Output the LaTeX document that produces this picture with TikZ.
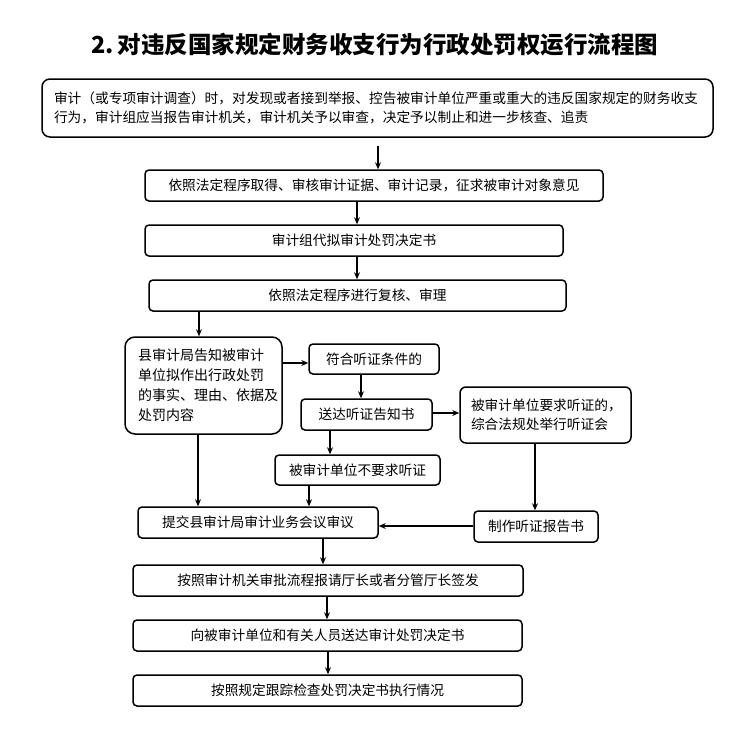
\documentclass[tikz,border=0pt]{standalone}
\usepackage{fontspec}
\setmainfont{Noto Sans CJK SC}
\usetikzlibrary{arrows.meta}
\tikzset{
  box/.style={draw=black, line width=1.5pt, rounded corners=4pt, inner sep=0pt,
    font=\fontsize{13.7}{19}\selectfont, align=center},
  arr/.style={draw=black, line width=1.5pt, -{Stealth[length=7pt,width=6pt]}}
}
\begin{document}
\begin{tikzpicture}[x=1pt,y=-1pt]
\useasboundingbox (0,0) rectangle (743,736);
\node[font=\fontsize{23.5}{26}\selectfont\bfseries] (title) at (375,45) {2.\,对违反国家规定财务收支行为行政处罚权运行流程图};
\node[box, rounded corners=8pt, minimum width=671pt, minimum height=58pt, text width=647pt, align=left] (b1) at (377.5,108)
  {审计（或专项审计调查）时，对发现或者接到举报、控告被审计单位严重或重大的违反国家规定的财务收支\\行为，审计组应当报告审计机关，审计机关予以审查，决定予以制止和进一步核查、追责};
\node[box, minimum width=458pt, minimum height=31pt] (b2) at (374,185.5) {依照法定程序取得、审核审计证据、审计记录，征求被审计对象意见};
\node[box, minimum width=418pt, minimum height=31pt] (b3) at (354,240.5) {审计组代拟审计处罚决定书};
\node[box, minimum width=417pt, minimum height=31pt] (b4) at (357.5,295.5) {依照法定程序进行复核、审理};
\node[box, rounded corners=10pt, minimum width=157pt, minimum height=97pt, text width=131pt, align=left,
  font=\fontsize{14}{20}\selectfont] (b5) at (203.5,385.5) {县审计局告知被审计\\单位拟作出行政处罚\\的事实、理由、依据及\\处罚内容};
\node[box, minimum width=130pt, minimum height=30pt] (b6) at (374,359) {符合听证条件的};
\node[box, minimum width=131pt, minimum height=31pt] (b7) at (366.5,414.5) {送达听证告知书};
\node[box, rounded corners=6pt, minimum width=171pt, minimum height=56pt, text width=149pt, align=left] (b8) at (545.5,415)
  {被审计单位要求听证的，\\综合法规处举行听证会};
\node[box, minimum width=165pt, minimum height=30pt] (b9) at (357.5,470) {被审计单位不要求听证};
\node[box, minimum width=240pt, minimum height=31pt] (b10) at (258,522.5) {提交县审计局审计业务会议审议};
\node[box, minimum width=124pt, minimum height=31pt] (b11) at (536,526.5) {制作听证报告书};
\node[box, minimum width=390pt, minimum height=31pt] (b12) at (328,580.5) {按照审计机关审批流程报请厅长或者分管厅长签发};
\node[box, minimum width=389pt, minimum height=31pt] (b13) at (327.5,635.5) {向被审计单位和有关人员送达审计处罚决定书};
\node[box, minimum width=389pt, minimum height=31pt] (b14) at (327.5,690.5) {按照规定跟踪检查处罚决定书执行情况};
\coordinate (c1) at (378,146);
\draw[arr] (c1) -- (c1 |- b2.north);
\draw[arr] (b2.south -| 357,0) -- (b3.north -| 357,0);
\draw[arr] (b3.south -| 357,0) -- (b4.north -| 357,0);
\draw[arr] (b4.south -| 199,0) -- (b5.north -| 199,0);
\draw[arr] (b5.east |- 0,363) -- (b6.west |- 0,363);
\draw[arr] (b6.south -| 361,0) -- (b7.north -| 361,0);
\draw[arr] (b7.east |- 0,413) -- (b8.west |- 0,413);
\draw[arr] (b7.south -| 330,0) -- (b9.north -| 330,0);
\draw[arr] (b5.south -| 198,0) -- (b10.north -| 198,0);
\draw[arr] (b9.south -| 309,0) -- (b10.north -| 309,0);
\draw[arr] (b8.south -| 535,0) -- (b11.north -| 535,0);
\draw[arr] (b11.west |- 0,526) -- (b10.east |- 0,526);
\draw[arr] (b10.south -| 323,0) -- (b12.north -| 323,0);
\draw[arr] (b12.south -| 327,0) -- (b13.north -| 327,0);
\draw[arr] (b13.south -| 328,0) -- (b14.north -| 328,0);
\end{tikzpicture}
\end{document}
